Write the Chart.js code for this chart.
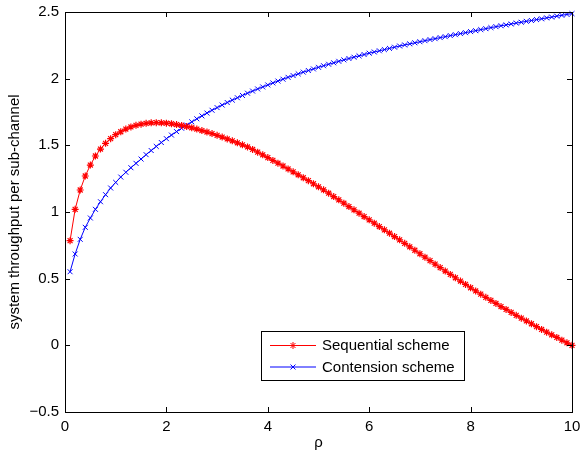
<!DOCTYPE html>
<html>
<head>
<meta charset="utf-8">
<script src="https://cdn.jsdelivr.net/npm/chart.js@4.4.0/dist/chart.umd.min.js"></script>
<style>
  body { margin: 0; background: #fff; }
</style>
</head>
<body>
<canvas id="chart" width="582" height="453"></canvas>
<script>
'use strict';

let canvasElem = document.getElementById('chart');

// rho values (x axis)
const rho = [
  0.1, 0.2, 0.3, 0.4, 0.5, 0.6, 0.7, 0.8, 0.9, 1.0,
  1.1, 1.2, 1.3, 1.4, 1.5, 1.6, 1.7, 1.8, 1.9, 2.0,
  2.1, 2.2, 2.3, 2.4, 2.5, 2.6, 2.7, 2.8, 2.9, 3.0,
  3.1, 3.2, 3.3, 3.4, 3.5, 3.6, 3.7, 3.8, 3.9, 4.0,
  4.1, 4.2, 4.3, 4.4, 4.5, 4.6, 4.7, 4.8, 4.9, 5.0,
  5.1, 5.2, 5.3, 5.4, 5.5, 5.6, 5.7, 5.8, 5.9, 6.0,
  6.1, 6.2, 6.3, 6.4, 6.5, 6.6, 6.7, 6.8, 6.9, 7.0,
  7.1, 7.2, 7.3, 7.4, 7.5, 7.6, 7.7, 7.8, 7.9, 8.0,
  8.1, 8.2, 8.3, 8.4, 8.5, 8.6, 8.7, 8.8, 8.9, 9.0,
  9.1, 9.2, 9.3, 9.4, 9.5, 9.6, 9.7, 9.8, 9.9, 10.0
];

const sequential = [
  0.785, 1.020, 1.165, 1.270, 1.352, 1.420, 1.472, 1.515, 1.550, 1.580,
  1.602, 1.622, 1.638, 1.650, 1.659, 1.665, 1.669, 1.670, 1.669, 1.666,
  1.662, 1.656, 1.649, 1.641, 1.632, 1.622, 1.611, 1.600, 1.588, 1.575,
  1.562, 1.548, 1.534, 1.519, 1.504, 1.488, 1.469, 1.449, 1.429, 1.408,
  1.387, 1.366, 1.345, 1.323, 1.301, 1.279, 1.257, 1.235, 1.212, 1.189,
  1.166, 1.141, 1.116, 1.091, 1.066, 1.041, 1.016, 0.991, 0.966, 0.941,
  0.916, 0.891, 0.866, 0.841, 0.816, 0.791, 0.765, 0.739, 0.713, 0.687,
  0.661, 0.635, 0.609, 0.583, 0.557, 0.532, 0.507, 0.482, 0.457, 0.432,
  0.408, 0.384, 0.360, 0.337, 0.314, 0.291, 0.269, 0.247, 0.225, 0.204,
  0.183, 0.162, 0.140, 0.119, 0.099, 0.079, 0.059, 0.039, 0.019, 0.000
];

const contension = [
  0.552, 0.685, 0.795, 0.885, 0.955, 1.020, 1.077, 1.130, 1.180, 1.222,
  1.262, 1.298, 1.332, 1.365, 1.397, 1.430, 1.461, 1.492, 1.521, 1.550,
  1.577, 1.603, 1.628, 1.652, 1.676, 1.699, 1.721, 1.742, 1.763, 1.783,
  1.802, 1.821, 1.839, 1.857, 1.874, 1.891, 1.907, 1.923, 1.938, 1.953,
  1.968, 1.982, 1.996, 2.010, 2.023, 2.036, 2.049, 2.061, 2.073, 2.085,
  2.097, 2.108, 2.119, 2.130, 2.141, 2.151, 2.161, 2.171, 2.181, 2.191,
  2.200, 2.209, 2.218, 2.227, 2.236, 2.245, 2.253, 2.261, 2.269, 2.277,
  2.285, 2.293, 2.300, 2.308, 2.315, 2.323, 2.330, 2.338, 2.345, 2.353,
  2.360, 2.368, 2.375, 2.383, 2.390, 2.397, 2.403, 2.410, 2.417, 2.423,
  2.430, 2.436, 2.443, 2.449, 2.456, 2.462, 2.469, 2.475, 2.482, 2.488
];

const seriesNames = ['Sequential scheme', 'Contension scheme'];
const xTicks = [0, 2, 4, 6, 8, 10];
const yTicks = [-0.5, 0, 0.5, 1, 1.5, 2, 2.5];

const FONT = '"Liberation Sans", Arial, Helvetica, sans-serif';

function toPoints(ys) {
  return rho.map((x, i) => ({ x: x, y: ys[i] }));
}

// marker drawing for the legend
function drawMarker(ctx, style, x, y, r) {
  ctx.beginPath();
  if (style === 'star') {
    ctx.moveTo(x - r, y); ctx.lineTo(x + r, y);
    ctx.moveTo(x, y - r); ctx.lineTo(x, y + r);
  }
  const d = r * Math.SQRT1_2;
  ctx.moveTo(x - d, y - d); ctx.lineTo(x + d, y + d);
  ctx.moveTo(x - d, y + d); ctx.lineTo(x + d, y - d);
  ctx.stroke();
}

// MATLAB-like box, inward ticks and legend
const matlabAxes = {
  id: 'matlabAxes',
  afterDatasetsDraw(chart) {
    const ctx = chart.ctx;
    const a = chart.chartArea;
    const xs = chart.scales.x;
    const ys = chart.scales.y;
    const tl = 5;
    ctx.save();
    ctx.strokeStyle = '#000';
    ctx.lineWidth = 1;
    ctx.strokeRect(Math.round(a.left) + 0.5, Math.round(a.top) + 0.5,
      Math.round(a.right - a.left), Math.round(a.bottom - a.top));
    ctx.beginPath();
    xTicks.forEach(v => {
      const px = Math.round(xs.getPixelForValue(v)) + 0.5;
      ctx.moveTo(px, a.bottom); ctx.lineTo(px, a.bottom - tl);
      ctx.moveTo(px, a.top); ctx.lineTo(px, a.top + tl);
    });
    yTicks.forEach(v => {
      const py = Math.round(ys.getPixelForValue(v)) + 0.5;
      ctx.moveTo(a.left, py); ctx.lineTo(a.left + tl, py);
      ctx.moveTo(a.right, py); ctx.lineTo(a.right - tl, py);
    });
    ctx.stroke();

    // legend
    const lx = 261, ly = 331, lw = 203, lh = 49;
    ctx.fillStyle = '#fff';
    ctx.fillRect(lx, ly, lw, lh);
    ctx.strokeRect(lx + 0.5, ly + 0.5, lw, lh);
    ctx.font = '15px ' + FONT;
    ctx.textBaseline = 'middle';
    ctx.textAlign = 'left';
    chart.data.datasets.forEach((ds, i) => {
      const rowY = ly + 14.5 + i * 21.5;
      ctx.strokeStyle = ds.borderColor;
      ctx.lineWidth = 1;
      ctx.beginPath();
      ctx.moveTo(270, rowY); ctx.lineTo(316, rowY);
      ctx.stroke();
      drawMarker(ctx, ds.pointStyle, 293, rowY, ds.pointRadius);
      ctx.fillStyle = '#000';
      ctx.fillText(ds.label, 322, rowY + 0.5);
    });
    ctx.restore();
  }
};

const data = {
  datasets: [
    {
      label: seriesNames[0],
      data: toPoints(sequential),
      showLine: true,
      borderColor: '#ff0000',
      backgroundColor: '#ff0000',
      borderWidth: 1,
      pointStyle: 'star',
      pointRadius: 3.5,
      pointBorderWidth: 1.2,
      pointBorderColor: '#ff0000',
      tension: 0,
      clip: false,
    },
    {
      label: seriesNames[1],
      data: toPoints(contension),
      showLine: true,
      borderColor: '#0000ff',
      backgroundColor: '#0000ff',
      borderWidth: 1,
      pointStyle: 'crossRot',
      pointRadius: 3.5,
      pointBorderWidth: 1,
      pointBorderColor: '#0000ff',
      tension: 0,
      clip: false,
    },
  ],
};

const options = {
  responsive: false,
  animation: false,
  events: [],
  layout: { padding: { top: 12, right: 10, left: 0, bottom: 0 } },
  plugins: {
    legend: { display: false },
    tooltip: { enabled: false },
  },
  scales: {
    x: {
      type: 'linear',
      min: 0,
      max: 10,
      afterBuildTicks: scale => { scale.ticks = xTicks.map(v => ({ value: v })); },
      afterFit: scale => {
        scale.height = 41;
        scale.paddingLeft = 0;
        scale.paddingRight = 0;
      },
      grid: { display: false, drawTicks: false },
      border: { display: false },
      ticks: {
        color: '#000',
        padding: 6,
        maxRotation: 0,
        font: { family: FONT, size: 15 },
      },
      title: {
        display: true,
        text: 'ρ',
        color: '#000',
        padding: { top: 0, bottom: 1 },
        font: { family: FONT, size: 15 },
      },
    },
    y: {
      type: 'linear',
      min: -0.5,
      max: 2.5,
      afterBuildTicks: scale => { scale.ticks = yTicks.map(v => ({ value: v })); },
      afterFit: scale => {
        scale.width = 65;
        scale.paddingTop = 0;
        scale.paddingBottom = 0;
      },
      grid: { display: false, drawTicks: false },
      border: { display: false },
      ticks: {
        color: '#000',
        padding: 6,
        font: { family: FONT, size: 15 },
        callback: v => String(v).replace('-', '\u2212'),
      },
      title: {
        display: true,
        text: 'system throughput per sub-channel',
        color: '#000',
        padding: { top: 6, bottom: 0 },
        font: { family: FONT, size: 15 },
      },
    },
  },
};

new Chart(canvasElem, {
  type: 'scatter',
  data: data,
  options: options,
  plugins: [matlabAxes],
});
</script>
</body>
</html>
